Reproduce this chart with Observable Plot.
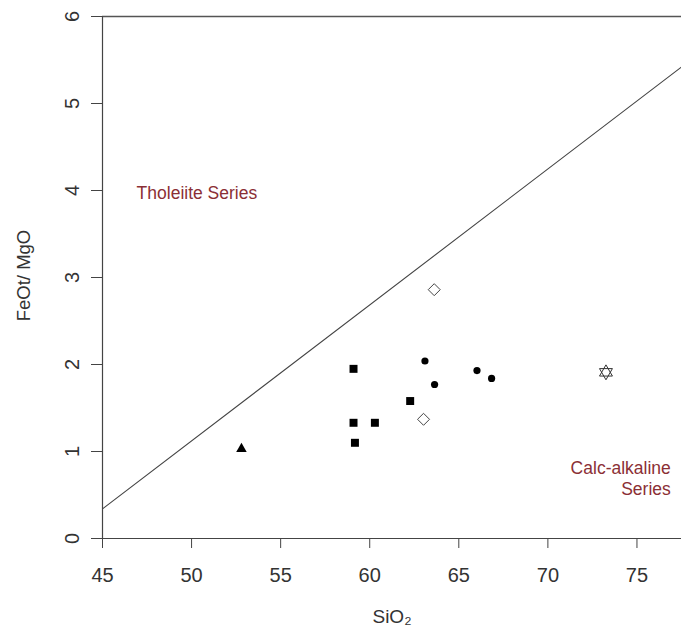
<!DOCTYPE html>
<html><head><meta charset="utf-8">
<script src="https://cdn.jsdelivr.net/npm/d3@7"></script>
<script src="https://cdn.jsdelivr.net/npm/@observablehq/plot@0.6"></script>
<style>
body{margin:0;background:#fff}
#chart svg{display:block}
</style>
</head><body><div id="chart"></div>
<script>
// Tick values
const xTicks = [45, 50, 55, 60, 65, 70, 75];
const yTicks = [0, 1, 2, 3, 4, 5, 6];

// Samples by symbol group (SiO2, FeOt/MgO)
const squareSiO2 = [59.09, 59.09, 60.29, 59.17, 62.27];
const squareRatio = [1.95, 1.33, 1.33, 1.10, 1.58];
const circleSiO2 = [63.10, 63.64, 66.02, 66.84];
const circleRatio = [2.04, 1.77, 1.93, 1.84];
const diamondSiO2 = [63.62, 63.02];
const diamondRatio = [2.86, 1.37];
const triangleSiO2 = [52.8];
const triangleRatio = [1.03];
const starSiO2 = [73.26];
const starRatio = [1.91];

// Tholeiite / calc-alkaline dividing line (end points)
const boundarySiO2 = [45, 77.5];
const boundaryRatio = [0.34, 5.42];

// Field labels
const fieldNames = ["Tholeiite Series", "Calc-alkaline\nSeries"];
const fieldSiO2 = [50.3, 76.9];
const fieldRatio = [3.97, 0.70];

const pts = (xs, ys) => xs.map((x, i) => ({x, y: ys[i]}));
const boundary = pts(boundarySiO2, boundaryRatio);
const font = "'Liberation Sans', Arial, sans-serif";
const red = "#8b2f35";

const chart = Plot.plot({
  width: 681,
  height: 628,
  marginLeft: 102,
  marginRight: 0,
  marginTop: 16,
  marginBottom: 90,
  style: {fontFamily: font, background: "#fff", color: "#333"},
  x: {domain: [45, 77.5]},
  y: {domain: [0, 6]},
  marks: [
    Plot.ruleY([6], {stroke: "#555", strokeWidth: 1.3}),
    Plot.ruleY([0], {stroke: "#444", strokeWidth: 1.2}),
    Plot.ruleX([45], {stroke: "#444", strokeWidth: 1.2}),
    Plot.axisX({ticks: xTicks, tickFormat: d3.format("d"), tickSize: 10, tickPadding: 19, fontSize: 20, label: null, stroke: "#444"}),
    Plot.axisY({ticks: yTicks, tickFormat: d3.format("d"), tickSize: 11, tickPadding: 13, fontSize: 20, tickRotate: -90, label: null, stroke: "#444"}),
    Plot.text(["SiO₂"], {frameAnchor: "bottom", dy: 84, fontSize: 19, fill: "#333"}),
    Plot.text(["FeOt/ MgO"], {frameAnchor: "left", textAnchor: "middle", rotate: -90, dx: -78, dy: -2, fontSize: 18.5, fill: "#333"}),
    Plot.line(boundary, {x: "x", y: "y", stroke: "#444", strokeWidth: 1.1, clip: true}),
    Plot.dot(pts(squareSiO2, squareRatio), {x: "x", y: "y", symbol: "square", r: 4.5, fill: "#000"}),
    Plot.dot(pts(circleSiO2, circleRatio), {x: "x", y: "y", symbol: "circle", r: 3.6, fill: "#000"}),
    Plot.dot(pts(triangleSiO2, triangleRatio), {x: "x", y: "y", symbol: "triangle", r: 3.9, fill: "#000"}),
    Plot.dot(pts(diamondSiO2, diamondRatio), {x: "x", y: "y", symbol: "diamond2", r: 5.4, fill: "#fff", stroke: "#444", strokeWidth: 1}),
    Plot.dot(pts(starSiO2, starRatio), {x: "x", y: "y", symbol: "triangle", r: 4.8, fill: "none", stroke: "#333", strokeWidth: 1}),
    Plot.dot(pts(starSiO2, starRatio), {x: "x", y: "y", symbol: "triangle", rotate: 180, r: 4.8, fill: "none", stroke: "#333", strokeWidth: 1}),
    Plot.text(fieldNames.slice(0, 1), {x: fieldSiO2.slice(0, 1), y: fieldRatio.slice(0, 1), fontSize: 17.5, fill: red}),
    Plot.text(fieldNames.slice(1), {x: fieldSiO2.slice(1), y: fieldRatio.slice(1), fontSize: 17.5, lineHeight: 1.2, textAnchor: "end", fill: red})
  ]
});
document.getElementById("chart").append(chart);
</script>
</body></html>
